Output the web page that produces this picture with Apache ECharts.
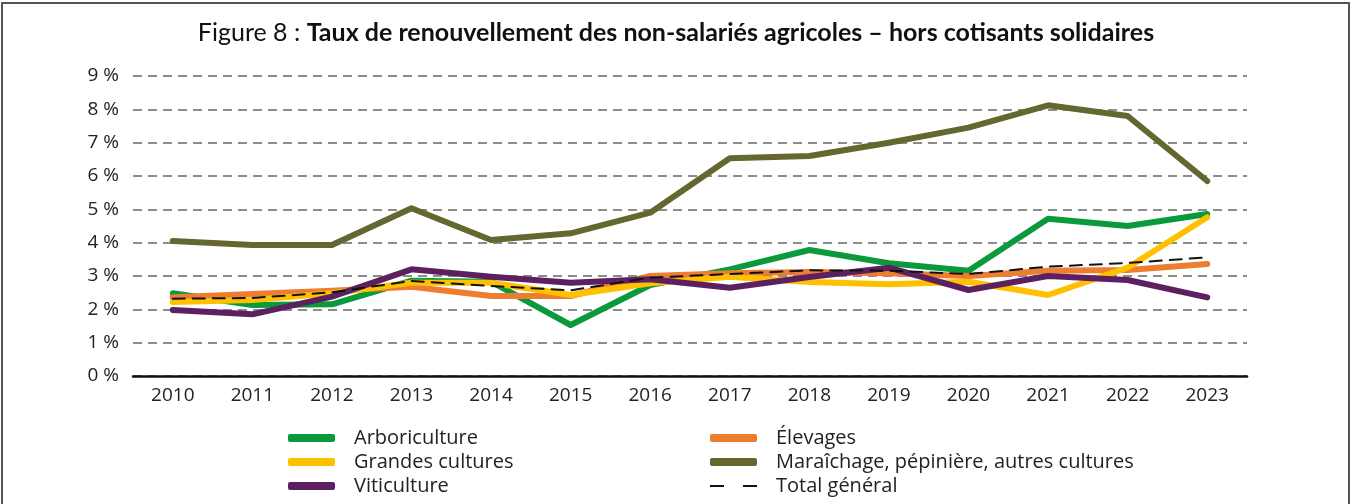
<!DOCTYPE html>
<html>
<head>
<meta charset="utf-8">
<script src="https://cdn.jsdelivr.net/npm/echarts@6/dist/echarts.min.js"></script>
<style>
  html, body { margin: 0; padding: 0; background: #fff; }
  #chart { width: 1352px; height: 504px; }
</style>
</head>
<body>
<div id="chart"></div>
<script>
// années
const years = ['2010', '2011', '2012', '2013', '2014', '2015', '2016', '2017', '2018', '2019', '2020', '2021', '2022', '2023'];

// taux de renouvellement (%)
const arboriculture = [2.48, 2.13, 2.15, 2.86, 2.83, 1.53, 2.73, 3.2, 3.78, 3.38, 3.16, 4.72, 4.5, 4.86];
const elevages = [2.36, 2.46, 2.56, 2.68, 2.4, 2.4, 3.0, 3.08, 3.12, 3.08, 3.0, 3.16, 3.18, 3.36];
const grandesCultures = [2.22, 2.28, 2.48, 2.8, 2.8, 2.43, 2.78, 2.98, 2.82, 2.75, 2.83, 2.43, 3.25, 4.76];
const maraichage = [4.05, 3.93, 3.93, 5.03, 4.08, 4.28, 4.9, 6.53, 6.6, 7.0, 7.45, 8.12, 7.8, 5.85];
const viticulture = [1.98, 1.85, 2.38, 3.2, 2.98, 2.8, 2.9, 2.65, 2.97, 3.25, 2.58, 3.0, 2.88, 2.36];
const totalGeneral = [2.32, 2.34, 2.51, 2.85, 2.7, 2.57, 2.95, 3.06, 3.17, 3.16, 3.06, 3.28, 3.39, 3.56];

const font = 'Lato, "Open Sans", sans-serif';
const labelFont = '"Open Sans", Lato, sans-serif';

function serie(name, data, color, width, dash) {
  return {
    name: name,
    type: 'line',
    data: data,
    symbol: 'none',
    lineStyle: { color: color, width: width, type: dash || 'solid', cap: 'round', join: 'round' },
    itemStyle: { color: color },
    z: dash ? 5 : 2
  };
}

const legendText = { fontFamily: labelFont, fontSize: 20, color: '#222', padding: [0, 0, 0, 14] };

const chart = echarts.init(document.getElementById('chart'));
chart.setOption({
  animation: false,
  graphic: [{
    type: 'rect',
    shape: { x: 2, y: 3, width: 1347, height: 510 },
    style: { fill: 'none', stroke: '#555', lineWidth: 2 },
    silent: true
  }],
  title: {
    text: 'Figure 8 : {b|Taux de renouvellement des non-salariés agricoles – hors cotisants solidaires}',
    left: 'center',
    top: 15,
    textStyle: {
      fontFamily: font, fontSize: 25, fontWeight: 'normal', color: '#111',
      rich: { b: { fontFamily: font, fontSize: 25, fontWeight: 'bold', color: '#111' } }
    }
  },
  grid: { left: 133, right: 105, top: 76, bottom: 128 },
  legend: [{
    orient: 'vertical',
    left: 283, top: 423, height: 90,
    itemWidth: 47, itemHeight: 8, itemGap: 4,
    icon: 'roundRect',
    textStyle: legendText,
    data: ['Arboriculture', 'Grandes cultures', 'Viticulture']
  }, {
    orient: 'vertical',
    left: 705, top: 423, height: 90,
    itemWidth: 47, itemHeight: 8, itemGap: 4,
    icon: 'roundRect',
    textStyle: legendText,
    data: ['Élevages', 'Maraîchage, pépinière, autres cultures']
  }, {
    orient: 'vertical',
    left: 705, top: 471, height: 30,
    itemWidth: 47, itemHeight: 2,
    icon: 'path://M0,0H14V2H0Z M33,0H47V2H33Z',
    textStyle: legendText,
    data: ['Total général']
  }],
  xAxis: {
    type: 'category',
    data: years,
    boundaryGap: true,
    axisLine: { lineStyle: { color: '#111', width: 2.5 } },
    axisTick: { show: false },
    axisLabel: { fontFamily: labelFont, fontSize: 19, color: '#222', margin: 10 }
  },
  yAxis: {
    type: 'value',
    min: 0, max: 9, interval: 1,
    axisLine: { show: false },
    axisTick: { show: false },
    axisLabel: { formatter: '{value} %', fontFamily: labelFont, fontSize: 19, color: '#222', margin: 14 },
    splitLine: { lineStyle: { color: '#8c8c8c', width: 2, type: [9, 6] } }
  },
  series: [
    serie('Arboriculture', arboriculture, '#0a9a3c', 6),
    serie('Élevages', elevages, '#ed7d31', 6),
    serie('Grandes cultures', grandesCultures, '#ffc000', 6),
    serie('Maraîchage, pépinière, autres cultures', maraichage, '#656731', 6),
    serie('Viticulture', viticulture, '#5c2060', 6),
    serie('Total général', totalGeneral, '#111', 2, [12, 8])
  ]
});
</script>
</body>
</html>
